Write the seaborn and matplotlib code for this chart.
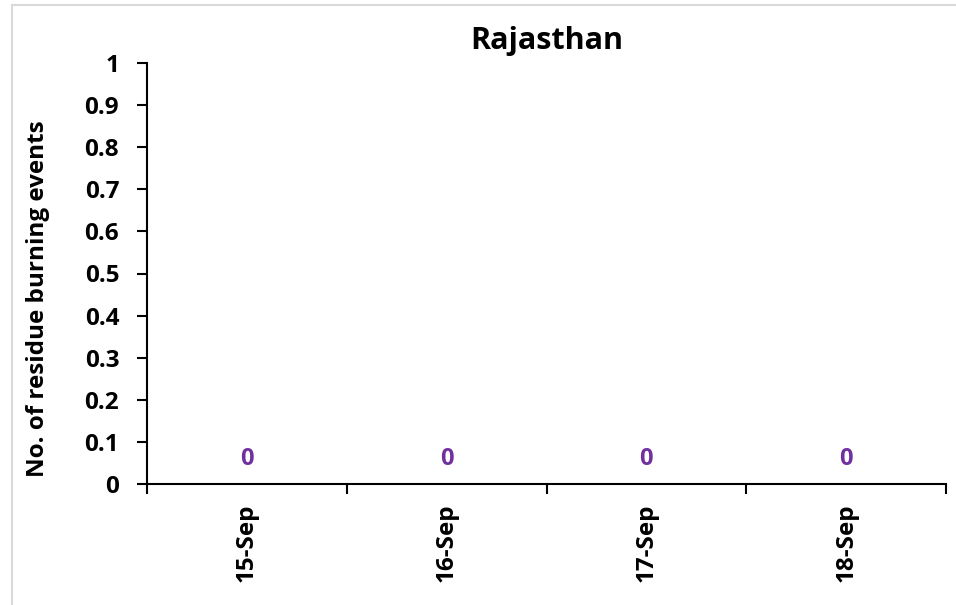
import numpy as np
import pandas as pd
import matplotlib
matplotlib.use("Agg")
import matplotlib.pyplot as plt
from matplotlib.lines import Line2D
import seaborn as sns

# Data
dates = ["15-Sep", "16-Sep", "17-Sep", "18-Sep"]
events = [0, 0, 0, 0]

sns.set_style("white")
plt.rcParams['font.family'] = ['Open Sans', 'DejaVu Sans']
plt.rcParams['font.weight'] = 'bold'
plt.rcParams['text.color'] = 'black'
plt.rcParams['axes.labelcolor'] = 'black'
plt.rcParams['xtick.color'] = 'black'
plt.rcParams['ytick.color'] = 'black'

df = pd.DataFrame({"date": dates, "events": events})

fig = plt.figure(figsize=(9.56, 6.05), dpi=100)
ax = fig.add_axes([147 / 956, 1 - 484 / 605, (946 - 147) / 956, (484 - 63) / 605])

sns.barplot(data=df, x="date", y="events", color="#7030A0", ax=ax, width=0.6)

# data labels
for c in ax.containers:
    ax.bar_label(c, labels=[str(v) for v in events], padding=9.5,
                 color="#7030A0", fontsize=17, fontweight="bold")

ax.set_ylim(0, 1)
ax.set_yticks(np.arange(0, 1.01, 0.1))
ax.set_yticklabels(["0"] + [f"{v:.1f}" for v in np.arange(0.1, 0.95, 0.1)] + ["1"])
ax.set_xlim(-0.5, len(dates) - 0.5)

# Excel-like category boundary ticks
ax.set_xticks(np.arange(-0.5, len(dates), 1.0), minor=True)
ax.tick_params(axis="x", which="minor", length=7, width=1.5, color="black", direction="out", bottom=True)
ax.tick_params(axis="x", which="major", length=0, pad=14, labelsize=17.5, rotation=90, labelcolor="black")
ax.tick_params(axis="y", length=7, width=1.5, color="black", direction="out", left=True, labelsize=17.5, pad=13, labelcolor="black")
for lbl in ax.get_xticklabels():
    lbl.set_fontweight("bold")
    lbl.set_va("top")
for lbl in ax.get_yticklabels():
    lbl.set_fontweight("bold")

for side in ["top", "right"]:
    ax.spines[side].set_visible(False)
for side in ["left", "bottom"]:
    ax.spines[side].set_color("black")
    ax.spines[side].set_linewidth(1.5)

ax.set_xlabel("")
ax.set_ylabel("No. of residue burning events", fontsize=17.5, fontweight="bold", color="black")
ax.yaxis.set_label_coords(-0.121, 0.44)
ax.set_title("Rajasthan", fontsize=22, fontweight="bold", pad=10, color="black")

# chart frame border (partially visible)
fig.add_artist(Line2D([12 / 956, 1], [1 - 5 / 605, 1 - 5 / 605], color="#d9d9d9", lw=1.5))
fig.add_artist(Line2D([12 / 956, 12 / 956], [0, 1 - 5 / 605], color="#d9d9d9", lw=1.5))

fig.savefig("out.png", dpi=100)
